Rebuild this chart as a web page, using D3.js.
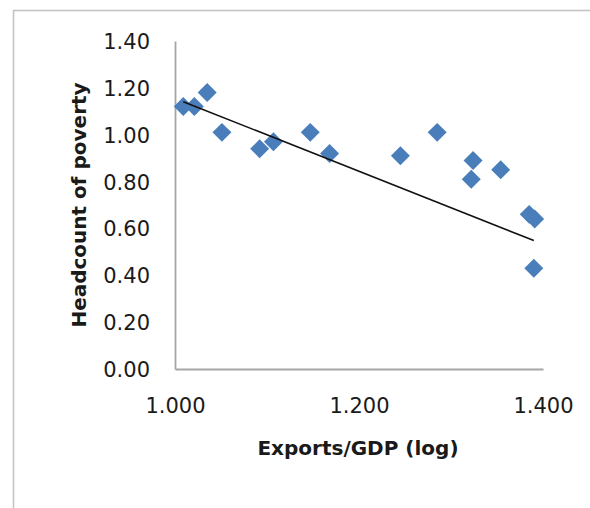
<!DOCTYPE html>
<html>
<head>
<meta charset="utf-8">
<script src="https://cdn.jsdelivr.net/npm/d3@7"></script>
<style>
  html, body { margin: 0; padding: 0; background: #fff; }
  svg { display: block; }
</style>
</head>
<body>
<svg id="chart" width="590" height="508"></svg>
<script>
// ---- data ----
const exportsGdp = [1.009, 1.021, 1.035, 1.051, 1.092, 1.107, 1.147, 1.168, 1.245, 1.285, 1.324, 1.322, 1.354, 1.385, 1.391, 1.390];
const headcount  = [1.12, 1.12, 1.18, 1.01, 0.94, 0.97, 1.01, 0.92, 0.91, 1.01, 0.89, 0.81, 0.85, 0.66, 0.64, 0.43];
const trendX = [1.009, 1.390];
const trendY = [1.141, 0.548];
const xTicks = [1.0, 1.2, 1.4];
const yTicks = [0, 0.2, 0.4, 0.6, 0.8, 1.0, 1.2, 1.4];
const xTitle = "Exports/GDP (log)";
const yTitle = "Headcount of poverty";

const svg = d3.select("#chart");
const plotLeft = 175, plotRight = 543, plotTop = 41, plotBottom = 369;
const textColor = "#1a1a1a";
const font = "'DejaVu Sans', sans-serif";

// outer frame
svg.append("rect")
  .attr("x", 13.5).attr("y", 10.5)
  .attr("width", 620).attr("height", 540)
  .attr("fill", "none").attr("stroke", "#c4c4c4").attr("stroke-width", 1.6);

const x = d3.scaleLinear().domain([1.0, 1.4]).range([plotLeft, plotRight]);
const y = d3.scaleLinear().domain([0, 1.4]).range([plotBottom, plotTop]);

// axes
const gx = svg.append("g").attr("transform", `translate(0,${plotBottom})`)
  .call(d3.axisBottom(x).tickValues(xTicks).tickSize(0).tickSizeOuter(0).tickFormat(d3.format(".3f")));
gx.select(".domain").attr("stroke", "#a6a6a6").attr("stroke-width", 1.8);
gx.selectAll("text").attr("y", 44).attr("dy", null)
  .attr("fill", textColor).style("font-family", font).style("font-size", "21px");

const gy = svg.append("g").attr("transform", `translate(${plotLeft},0)`)
  .call(d3.axisLeft(y).tickValues(yTicks).tickSize(0).tickSizeOuter(0).tickPadding(25).tickFormat(d3.format(".2f")));
gy.select(".domain").attr("stroke", "#a6a6a6").attr("stroke-width", 1.8);
gy.selectAll("text").attr("dy", "0.36em")
  .attr("fill", textColor).style("font-family", font).style("font-size", "21px");

// markers
const diamond = d3.symbol().type(d3.symbolSquare).size(180);
svg.append("g").selectAll("path")
  .data(exportsGdp.map((v, i) => [v, headcount[i]]))
  .join("path")
  .attr("d", diamond)
  .attr("transform", d => `translate(${x(d[0])},${y(d[1])}) rotate(45)`)
  .attr("fill", "#4a7ebb");

// trend line
svg.append("path")
  .datum(trendX.map((v, i) => [v, trendY[i]]))
  .attr("d", d3.line().x(d => x(d[0])).y(d => y(d[1])))
  .attr("fill", "none").attr("stroke", "#111").attr("stroke-width", 1.6);

// titles
svg.append("text")
  .attr("x", 358).attr("y", 455)
  .attr("text-anchor", "middle")
  .attr("fill", textColor)
  .style("font-family", font).style("font-weight", "bold").style("font-size", "20px")
  .text(xTitle);

svg.append("text")
  .attr("transform", `translate(86,${(plotTop + plotBottom) / 2}) rotate(-90)`)
  .attr("text-anchor", "middle")
  .attr("fill", textColor)
  .style("font-family", font).style("font-weight", "bold").style("font-size", "20px")
  .text(yTitle);
</script>
</body>
</html>
